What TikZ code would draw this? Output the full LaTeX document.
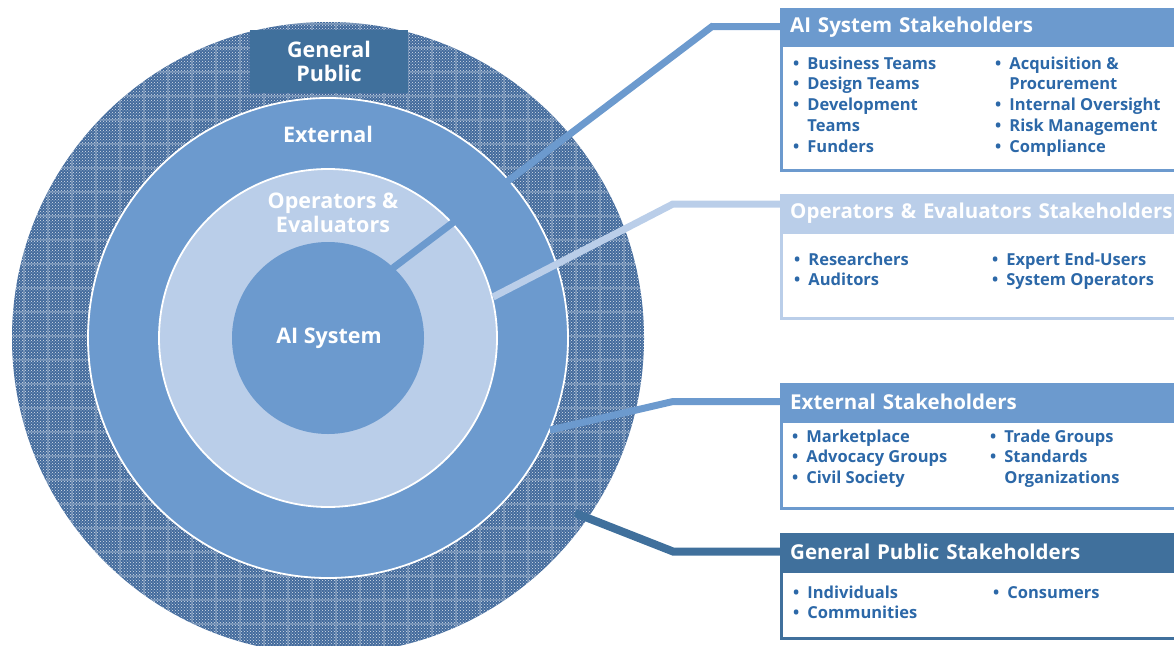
\documentclass[tikz,border=0pt]{standalone}
\usepackage{fontspec}
\setmainfont{Open Sans}
\usetikzlibrary{patterns}

\definecolor{midblue}{RGB}{108,154,206}
\definecolor{lightblue}{RGB}{186,206,233}
\definecolor{darkblue}{RGB}{64,112,156}
\definecolor{ringblue}{RGB}{66,106,156}
\definecolor{textblue}{RGB}{44,104,168}

\newcommand{\blist}[1]{\begin{tabular}{@{}l@{\hspace{8pt}}l@{}}#1\end{tabular}}

\tikzset{
  ring/.style={draw=white, line width=1.8pt},
  conn/.style={line width=7pt},
  head/.style={anchor=north west, minimum width=410pt, minimum height=37pt,
    inner xsep=10pt, text width=390pt, align=left, text=white,
    font=\fontsize{20.5}{24}\selectfont\bfseries},
  body/.style={anchor=north west, minimum width=410pt, line width=2.5pt, fill=white},
  lst/.style={anchor=north west, inner sep=0pt, text=textblue,
    font=\fontsize{16.5}{20.8}\selectfont\bfseries},
  ringlabel/.style={text=white, align=center, font=\fontsize{21.5}{24.5}\selectfont\bfseries}
}

\begin{document}
\begin{tikzpicture}[x=1pt,y=-1pt]
\useasboundingbox (0,0) rectangle (1174,645);
\coordinate (c) at (328,338);

% rings
\fill[ringblue] (c) circle (316);
\fill[pattern=crosshatch dots, pattern color=white!80!ringblue] (c) circle (316);
\begin{scope}
\clip (c) circle (316);
\draw[white, opacity=.22, line width=1.2pt, step=24pt] (0,0) grid (660,660);
\end{scope}
\fill[midblue] (c) circle (240);
\draw[ring] (c) circle (240);
\fill[lightblue] (c) circle (169);
\draw[ring] (c) circle (169);
\fill[midblue] (c) circle (96);

\node[ringlabel, fill=darkblue, minimum width=158pt, minimum height=63pt] (gp) at (329,61.5) {General\\Public};
\node[ringlabel] (ex) at (328,134) {External};
\node[ringlabel] (op) at (333,213) {Operators \&\\Evaluators};
\node[ringlabel] (ai) at (329,338) {AI System};

% boxes
\node[body, draw=midblue, minimum height=125pt] (aibody) at (780,44) {};
\node[head, fill=midblue] (aihead) at (780,8) {AI System Stakeholders};
\node[body, draw=lightblue, minimum height=86pt] (opbody) at (780,231) {};
\node[head, fill=lightblue] (ophead) at (780,194) {Operators \& Evaluators Stakeholders};
\node[body, draw=midblue, minimum height=87pt] (exbody) at (780,420) {};
\node[head, fill=midblue] (exhead) at (780,383) {External Stakeholders};
\node[body, draw=darkblue, minimum height=67pt] (gpbody) at (780,570) {};
\node[head, fill=darkblue] (gphead) at (780,533) {General Public Stakeholders};

% lists
\node[lst] (ai1) at (793,54.4) {\blist{\textbullet & Business Teams\\ \textbullet & Design Teams\\ \textbullet & Development\\ & Teams\\ \textbullet & Funders}};
\node[lst] (ai2) at (995,54.4) {\blist{\textbullet & Acquisition \&\\ & Procurement\\ \textbullet & Internal Oversight\\ \textbullet & Risk Management\\ \textbullet & Compliance}};
\node[lst] (op1) at (794,250.4) {\blist{\textbullet & Researchers\\ \textbullet & Auditors}};
\node[lst] (op2) at (992,250.4) {\blist{\textbullet & Expert End-Users\\ \textbullet & System Operators}};
\node[lst] (ex1) at (792,427.4) {\blist{\textbullet & Marketplace\\ \textbullet & Advocacy Groups\\ \textbullet & Civil Society}};
\node[lst] (ex2) at (990,427.4) {\blist{\textbullet & Trade Groups\\ \textbullet & Standards\\ & Organizations}};
\node[lst] (gp1) at (793,583.4) {\blist{\textbullet & Individuals\\ \textbullet & Communities}};
\node[lst] (gp2) at (993,583.4) {\blist{\textbullet & Consumers}};

% connectors
\coordinate (aiend) at (393,268);
\coordinate (opend) at (493,297);
\coordinate (exend) at (550,430);
\coordinate (gpend) at (575,513);
\coordinate (opin) at ([yshift=-10pt]ophead.north west);
\draw[conn, midblue] (aiend) -- (712,26.5) -- (aihead.west);
\draw[conn, lightblue] (opend) -- (673,204) -- (opin);
\draw[conn, midblue] (exend) -- (673,401.5) -- (exhead.west);
\draw[conn, darkblue, line width=8pt] (gpend) -- (673,551.5) -- (gphead.west);
\end{tikzpicture}
\end{document}
